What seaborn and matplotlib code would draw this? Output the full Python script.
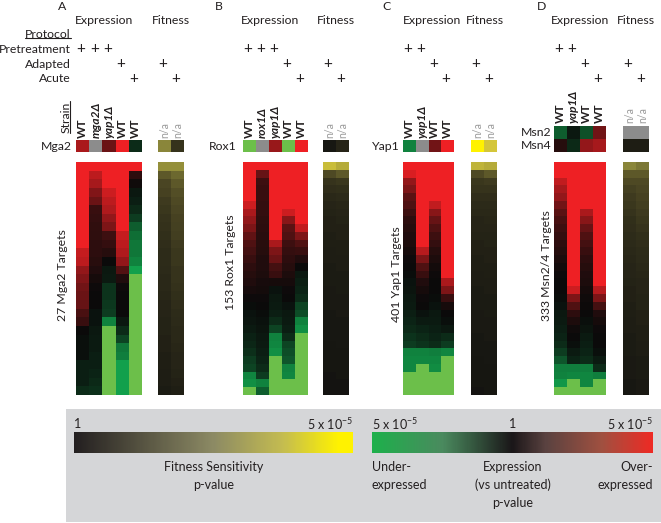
import numpy as np
import matplotlib
matplotlib.use('Agg')
import matplotlib.pyplot as plt
import seaborn as sns
from matplotlib.colors import LinearSegmentedColormap, Normalize
from matplotlib.patches import Rectangle
from matplotlib.lines import Line2D
import matplotlib.transforms as mtrans
import matplotlib.colorbar as mcolorbar

sns.set_theme(style='white')
plt.rcParams['font.family'] = ['Lato', 'DejaVu Sans']
plt.rcParams['mathtext.fontset'] = 'custom'
plt.rcParams['mathtext.rm'] = 'Lato'

nan = np.nan
# ---------------- data (expression score -1..1, fitness 0..1) ----------------
strains_A = ['WT', 'mga2Δ', 'yap1Δ', 'WT', 'WT']
strains_B = ['WT', 'rox1Δ', 'yap1Δ', 'WT', 'WT']
strains_C = ['WT', 'yap1Δ', 'WT', 'WT']
strains_D = ['WT', 'yap1Δ', 'WT', 'WT']
pre_A = [1, 1, 1, 0, 0]; adapted_A = [0, 0, 0, 1, 0]; acute_A = [0, 0, 0, 0, 1]
pre_B = [1, 1, 1, 0, 0]; adapted_B = [0, 0, 0, 1, 0]; acute_B = [0, 0, 0, 0, 1]
pre_C = [1, 1, 0, 0]; adapted_C = [0, 0, 1, 0]; acute_C = [0, 0, 0, 1]
pre_D = [1, 1, 0, 0]; adapted_D = [0, 0, 1, 0]; acute_D = [0, 0, 0, 1]
fit_adapted = [1, 0]; fit_acute = [0, 1]

genes_A = ['Mga2']; genes_B = ['Rox1']; genes_C = ['Yap1']; genes_D = ['Msn2', 'Msn4']
gene_expr_A = [[0.7, nan, 0.42, 1.0, -0.2]]
gene_fit_A = [[0.5, 0.18]]
gene_expr_B = [[-1.0, nan, 0.62, -1.0, 1.0]]
gene_fit_B = [[0.03, 0.1]]
gene_expr_C = [[-0.72, nan, 0.45, 1.0]]
gene_fit_C = [[1.0, 0.85]]
gene_expr_D = [[-0.5, -0.08, -0.42, 0.45], [0.12, -0.18, 0.6, 0.68]]
gene_fit_D = [[nan, nan], [0.06, 0.06]]

targets_A = '27 Mga2 Targets'
targets_B = '153 Rox1 Targets'
targets_C = '401 Yap1 Targets'
targets_D = '333 Msn2/4 Targets'

# Panel A, 27 targets
A_wt_pre = [1, 1, 1, 1, 1, 1, 1, 1, 1, 1, 0.82, 0.78, 0.6, 0.52, 0.45, 0.42, 0.4, 0.28, 0.2,
            0.0, -0.03, -0.03, -0.03, -0.12, -0.12, -0.12, -0.2]
A_mga2 = [1, 0.78, 0.68, 0.52, 0.42, 0.2, 0.18, 0.17, 0.16, 0.15, 0.15, 0.13, 0.1, 0.05, 0.02,
          0.0, 0.0, -0.05, -0.05, -0.08, -0.1, -0.1, -0.12, -0.12, -0.15, -0.18, -0.22]
A_yap1 = [1, 1, 1, 0.85, 0.78, 0.72, 0.6, 0.5, 0.22, 0.18, 0.12, 0.0, -0.08, -0.1, -0.25, -0.25,
          -0.28, -0.3, -0.72, -1, -1, -1, -1, -1, -1, -1, -1]
A_wt_adapt = [1, 1, 1, 1, 1, 1, 1, 1, 0.82, 0.78, 0.72, 0.6, 0.32, 0.1, 0.02, 0, 0, 0, -0.08,
              -0.2, -0.35, -0.65, -0.7, -0.9, -0.9, -0.9, -0.9]
A_wt_acute = [1, 0.15, 0.03, -0.08, -0.12, -0.18, -0.3, -0.5, -0.6, -0.65, -0.65, -0.72, -0.9,
              -1, -1, -1, -1, -1, -1, -1, -1, -1, -1, -1, -1, -1, -1]
A_fit_adapt = [0.55, 0.35, 0.28, 0.26, 0.22, 0.2, 0.18, 0.17, 0.16, 0.15, 0.14, 0.14, 0.13, 0.12,
               0.12, 0.11, 0.1, 0.1, 0.09, 0.09, 0.08, 0.08, 0.07, 0.07, 0.06, 0.06, 0.05]
A_fit_acute = [0.55, 0.4, 0.35, 0.32, 0.3, 0.28, 0.26, 0.25, 0.24, 0.22, 0.2, 0.2, 0.18, 0.18,
               0.17, 0.16, 0.15, 0.14, 0.13, 0.12, 0.12, 0.11, 0.1, 0.1, 0.09, 0.08, 0.07]

# Panel B (binned rows)
B_wt_pre = [1, 1, 1, 1, 1, 0.85, 0.7, 0.6, 0.5, 0.38, 0.3, 0.25, 0.2, 0.15, 0.12, 0.1, 0.06,
            0.02, -0.02, -0.05, -0.07, -0.1, -0.14, -0.17, -0.22, -0.3, -0.35, -0.75, -0.8, -1]
B_rox1 = [1, 0.4, 0.22, 0.2, 0.2, 0.18, 0.18, 0.16, 0.15, 0.14, 0.13, 0.12, 0.1, 0.1, 0.08,
          0.06, 0.04, 0.02, 0.0, -0.02, -0.04, -0.06, -0.08, -0.1, -0.12, -0.15, -0.2, -0.3,
          -0.72, -0.5]
B_yap1 = [1, 1, 1, 1, 1, 1, 1, 1, 1, 1, 0.7, 0.5, 0.42, 0.25, 0.2, 0.05, -0.05, -0.08, -0.1,
          -0.12, -0.2, -0.35, -0.72, -0.75, -0.8, -1, -1, -1, -1, -1]
B_wt_adapt = [1, 1, 1, 1, 1, 1, 0.85, 0.55, 0.35, 0.3, 0.22, 0.18, 0.15, 0.12, 0.08, 0.05,
              0.02, 0.0, -0.05, -0.08, -0.1, -0.12, -0.2, -0.35, -0.4, -0.45, -0.72, -0.75,
              -1, -1]
B_wt_acute = [1, 1, 1, 1, 1, 1, 1, 1, 0.8, 0.5, 0.3, 0.2, 0.1, 0.0, -0.08, -0.12, -0.15, -0.2,
              -0.35, -0.4, -0.72, -0.8, -1, -1, -1, -1, -1, -1, -1, -1]
B_fit_adapt = [0.8, 0.3, 0.18, 0.15, 0.12, 0.1, 0.09, 0.08, 0.08, 0.07, 0.07, 0.06, 0.06, 0.05,
               0.05, 0.05, 0.04, 0.04, 0.04, 0.03, 0.03, 0.03, 0.03, 0.02, 0.02, 0.02, 0.02,
               0.01, 0.01, 0.01]
B_fit_acute = [0.7, 0.35, 0.2, 0.16, 0.13, 0.11, 0.1, 0.09, 0.08, 0.08, 0.07, 0.07, 0.06, 0.06,
               0.05, 0.05, 0.05, 0.04, 0.04, 0.04, 0.03, 0.03, 0.03, 0.03, 0.02, 0.02, 0.02,
               0.02, 0.01, 0.01]

# Panel C
C_wt_pre = [1, 0.9, 0.6, 0.5, 0.35, 0.3, 0.22, 0.15, 0.12, 0.1, 0.08, 0.05, 0.02, 0.0, -0.02,
            -0.05, -0.06, -0.08, -0.1, -0.12, -0.15, -0.18, -0.25, -0.3, -0.72, -0.75, -0.75,
            -1, -1, -1]
C_yap1 = [1, 1, 1, 1, 1, 1, 1, 1, 1, 1, 1, 0.75, 0.5, 0.3, 0.2, 0.1, 0.05, 0.02, 0.0, -0.05,
          -0.1, -0.15, -0.2, -0.25, -0.72, -0.75, -1, -1, -1, -1]
C_wt_adapt = [1, 1, 1, 1, 1, 0.8, 0.55, 0.4, 0.3, 0.22, 0.18, 0.12, 0.08, 0.04, 0.02, 0.0, 0.0,
              -0.02, -0.05, -0.08, -0.1, -0.12, -0.15, -0.2, -0.7, -0.75, -0.78, -1, -1, -1]
C_wt_acute = [1, 1, 1, 1, 1, 1, 1, 1, 1, 1, 1, 1, 1, 1, 1, 0.7, 0.5, 0.2, 0.05, 0.0, -0.03,
              -0.08, -0.2, -0.3, -0.75, -1, -1, -1, -1, -1]
C_fit_adapt = [0.75, 0.3, 0.2, 0.18, 0.15, 0.13, 0.12, 0.1, 0.1, 0.09, 0.08, 0.08, 0.07, 0.07,
               0.06, 0.06, 0.05, 0.05, 0.05, 0.04, 0.04, 0.04, 0.03, 0.03, 0.03, 0.02, 0.02,
               0.02, 0.02, 0.01]
C_fit_acute = [0.7, 0.35, 0.22, 0.18, 0.15, 0.13, 0.12, 0.11, 0.1, 0.09, 0.09, 0.08, 0.08,
               0.07, 0.07, 0.06, 0.06, 0.05, 0.05, 0.05, 0.04, 0.04, 0.04, 0.03, 0.03, 0.03,
               0.02, 0.02, 0.02, 0.02]

# Panel D
D_wt_pre = [1, 1, 0.8, 0.68, 0.6, 0.45, 0.35, 0.28, 0.22, 0.18, 0.15, 0.12, 0.08, 0.04, 0.02,
            0.0, 0.0, -0.02, -0.05, -0.08, -0.1, -0.12, -0.15, -0.2, -0.3, -0.45, -0.7, -0.72,
            -0.85, -1]
D_yap1 = [1, 1, 1, 1, 1, 1, 1, 1, 1, 1, 1, 1, 1, 1, 1, 1, 0.85, 0.5, 0.3, 0.15, 0.08, 0.03,
          0.0, -0.03, -0.1, -0.15, -0.7, -0.75, -1, -1]
D_wt_adapt = [1, 1, 1, 1, 1, 1, 0.7, 0.55, 0.4, 0.3, 0.25, 0.2, 0.15, 0.12, 0.1, 0.08, 0.05,
              0.03, 0.01, 0.0, -0.03, -0.06, -0.1, -0.12, -0.15, -0.2, -0.7, -0.75, -0.75, -1]
D_wt_acute = [1, 1, 1, 1, 1, 1, 1, 1, 1, 1, 1, 1, 1, 1, 1, 1, 0.75, 0.5, 0.25, 0.1, 0.05, 0.02,
              0.0, 0.0, -0.03, -0.1, -0.2, -0.7, -1, -1]
D_fit_adapt = [0.5, 0.35, 0.3, 0.25, 0.22, 0.2, 0.18, 0.16, 0.15, 0.14, 0.13, 0.12, 0.11, 0.1,
               0.1, 0.09, 0.08, 0.08, 0.07, 0.07, 0.06, 0.06, 0.05, 0.05, 0.05, 0.04, 0.04,
               0.04, 0.03, 0.03]
D_fit_acute = [0.45, 0.35, 0.3, 0.28, 0.26, 0.24, 0.22, 0.2, 0.18, 0.16, 0.15, 0.14, 0.13,
               0.12, 0.11, 0.1, 0.1, 0.09, 0.09, 0.08, 0.08, 0.07, 0.07, 0.06, 0.06, 0.05, 0.05,
               0.05, 0.04, 0.04]

# ---------------- styling ----------------
W, H = 661, 523
TXT = '#231f20'
NA_GRAY = '#8c8c8c'
expr_cmap = LinearSegmentedColormap.from_list('expr', [
    (0.0, '#6CBF4A'), (0.03, '#12A64E'), (0.5, '#0A0A0A'), (1.0, '#EE2024')])
fit_cmap = LinearSegmentedColormap.from_list('fit', [
    (0.0, '#121210'), (0.3, '#4e4924'), (0.5, '#8a863a'), (0.85, '#d4c63a'), (1.0, '#fff200')])
leg_fit_cmap = LinearSegmentedColormap.from_list('lfit', [
    (0.0, '#231f20'), (0.5, '#8c8a64'), (0.75, '#c4bc50'), (0.95, '#fff200'), (1.0, '#fff200')])
leg_expr_cmap = LinearSegmentedColormap.from_list('lexpr', [
    (0.0, '#1db04b'), (0.25, '#4a8a5e'), (0.5, '#1a1618'), (0.62, '#5a4240'),
    (0.82, '#a05040'), (1.0, '#ee2a24')])

fig = plt.figure(figsize=(W / 100, H / 100), dpi=100)
fig.patch.set_facecolor('white')


def fy(y):
    return 1 - y / H


def ax_px(x0, y0, x1, y1):
    return fig.add_axes([x0 / W, 1 - y1 / H, (x1 - x0) / W, (y1 - y0) / H])


def draw_heat(ax, data, cmap, vmin, vmax):
    ax.set_facecolor(NA_GRAY)
    sns.heatmap(np.array(data, dtype=float), ax=ax, cmap=cmap, vmin=vmin, vmax=vmax,
                cbar=False, xticklabels=False, yticklabels=False, linewidths=0)
    ax.set_xlabel('')
    ax.set_ylabel('')
    for s in ax.spines.values():
        s.set_visible(False)


panels = [
    dict(letter='A', lx=62, ex=(76, 142), fx=(158, 184), gy=(140, 152), sy=138,
         ehx=104, fhx=171, genes=genes_A, ge=gene_expr_A, gf=gene_fit_A, strains=strains_A,
         pre=pre_A, ad=adapted_A, ac=acute_A, glx=72,
         cols=[A_wt_pre, A_mga2, A_yap1, A_wt_adapt, A_wt_acute],
         fcols=[A_fit_adapt, A_fit_acute], tl=targets_A, tx=63, ty=275),
    dict(letter='B', lx=219, ex=(243, 308), fx=(323, 349), gy=(140, 152), sy=138,
         ehx=270, fhx=336, genes=genes_B, ge=gene_expr_B, gf=gene_fit_B, strains=strains_B,
         pre=pre_B, ad=adapted_B, ac=acute_B, glx=237,
         cols=[B_wt_pre, B_rox1, B_yap1, B_wt_adapt, B_wt_acute],
         fcols=[B_fit_adapt, B_fit_acute], tl=targets_B, tx=231, ty=262),
    dict(letter='C', lx=387, ex=(403, 454), fx=(471, 497), gy=(140, 152), sy=138,
         ehx=432, fhx=485, genes=genes_C, ge=gene_expr_C, gf=gene_fit_C, strains=strains_C,
         pre=pre_C, ad=adapted_C, ac=acute_C, glx=400,
         cols=[C_wt_pre, C_yap1, C_wt_adapt, C_wt_acute],
         fcols=[C_fit_adapt, C_fit_acute], tl=targets_C, tx=396, ty=274),
    dict(letter='D', lx=542, ex=(554, 606), fx=(623, 649), gy=(126, 152), sy=123,
         ehx=580, fhx=636, genes=genes_D, ge=gene_expr_D, gf=gene_fit_D, strains=strains_D,
         pre=pre_D, ad=adapted_D, ac=acute_D, glx=552,
         cols=[D_wt_pre, D_yap1, D_wt_adapt, D_wt_acute],
         fcols=[D_fit_adapt, D_fit_acute], tl=targets_D, tx=546, ty=266),
]

FS = 8.8
Y_PRE, Y_AD, Y_AC = 49, 64, 79
HEAT_TOP, HEAT_BOT = 162, 395

for p in panels:
    fig.text(p['lx'] / W, fy(7), p['letter'], ha='center', va='center', fontsize=FS, color=TXT)
    fig.text(p['ehx'] / W, fy(21), 'Expression', ha='center', va='center', fontsize=FS, color=TXT)
    fig.text(p['fhx'] / W, fy(21), 'Fitness', ha='center', va='center', fontsize=FS, color=TXT)

    gax = ax_px(p['ex'][0], p['gy'][0], p['ex'][1], p['gy'][1])
    draw_heat(gax, p['ge'], expr_cmap, -1, 1)
    gfx = ax_px(p['fx'][0], p['gy'][0], p['fx'][1], p['gy'][1])
    draw_heat(gfx, p['gf'], fit_cmap, 0, 1)

    tax = ax_px(p['ex'][0], HEAT_TOP, p['ex'][1], HEAT_BOT)
    draw_heat(tax, np.array(p['cols']).T, expr_cmap, -1, 1)
    tfx = ax_px(p['fx'][0], HEAT_TOP, p['fx'][1], HEAT_BOT)
    draw_heat(tfx, np.array(p['fcols']).T, fit_cmap, 0, 1)

    # gene row labels
    ng = len(p['genes'])
    gh = (p['gy'][1] - p['gy'][0]) / ng
    for i, g in enumerate(p['genes']):
        fig.text(p['glx'] / W, fy(p['gy'][0] + gh * (i + 0.5)), g, ha='right', va='center',
                 fontsize=FS, color=TXT)

    # strain labels
    tr_e = mtrans.blended_transform_factory(gax.transData, fig.transFigure)
    tr_f = mtrans.blended_transform_factory(gfx.transData, fig.transFigure)
    for i, s in enumerate(p['strains']):
        style = 'normal' if s == 'WT' else 'italic'
        gax.text(i + 0.5, fy(p['sy']), s, transform=tr_e, rotation=90, ha='center',
                 va='bottom', fontsize=8.6, fontweight='bold', fontstyle=style, color=TXT,
                 clip_on=False)
    for i in range(2):
        gfx.text(i + 0.5, fy(p['sy']), 'n/a', transform=tr_f, rotation=90, ha='center',
                 va='bottom', fontsize=7.6, color='#9a9a9a', clip_on=False)

    # protocol plus signs
    for i in range(len(p['strains'])):
        for flag, yy in ((p['pre'][i], Y_PRE), (p['ad'][i], Y_AD), (p['ac'][i], Y_AC)):
            if flag:
                gax.text(i + 0.5 - 0.12, fy(yy), '+', transform=tr_e, ha='center', va='center',
                         fontsize=11, color=TXT, clip_on=False)
    for i in range(2):
        for flag, yy in ((fit_adapted[i], Y_AD), (fit_acute[i], Y_AC)):
            if flag:
                gfx.text(i + 0.5 - 0.12, fy(yy), '+', transform=tr_f, ha='center', va='center',
                         fontsize=11, color=TXT, clip_on=False)

    fig.text(p['tx'] / W, fy(p['ty']), p['tl'], rotation=90, ha='center', va='center',
             fontsize=FS, color=TXT)

# protocol labels
t_prot = fig.text(71 / W, fy(34), 'Protocol', ha='right', va='center', fontsize=FS, color=TXT)
fig.text(71 / W, fy(Y_PRE), 'Pretreatment', ha='right', va='center', fontsize=FS, color=TXT)
fig.text(71 / W, fy(Y_AD), 'Adapted', ha='right', va='center', fontsize=FS, color=TXT)
fig.text(71 / W, fy(Y_AC), 'Acute', ha='right', va='center', fontsize=FS, color=TXT)
t_strain = fig.text(66 / W, fy(117), 'Strain', rotation=90, ha='center', va='center',
                    fontsize=FS, color=TXT)

# legend box
fig.patches.append(Rectangle((66 / W, fy(522)), (661 - 66) / W, (522 - 409) / H,
                             transform=fig.transFigure, facecolor='#d5d6d8', edgecolor='none',
                             zorder=-5))
cax1 = ax_px(74, 432, 353, 453)
cb1 = mcolorbar.ColorbarBase(cax1, cmap=leg_fit_cmap, norm=Normalize(0, 1),
                             orientation='horizontal')
cax2 = ax_px(372, 432, 653, 453)
cb2 = mcolorbar.ColorbarBase(cax2, cmap=leg_expr_cmap, norm=Normalize(0, 1),
                             orientation='horizontal')
for cb in (cb1, cb2):
    cb.outline.set_visible(False)
    cb.ax.set_xticks([])
    cb.ax.set_yticks([])

LFS = 9.0
sup = r'5 x 10$^{\mathregular{-5}}$'
fig.text(74 / W, fy(424), '1', ha='left', va='center', fontsize=LFS, color=TXT)
fig.text(353 / W, fy(424), sup, ha='right', va='center', fontsize=LFS, color=TXT)
fig.text(372 / W, fy(424), sup, ha='left', va='center', fontsize=LFS, color=TXT)
fig.text(513 / W, fy(424), '1', ha='center', va='center', fontsize=LFS, color=TXT)
fig.text(653 / W, fy(424), sup, ha='right', va='center', fontsize=LFS, color=TXT)

fig.text(214 / W, fy(467), 'Fitness Sensitivity', ha='center', va='center', fontsize=LFS, color=TXT)
fig.text(214 / W, fy(485), 'p-value', ha='center', va='center', fontsize=LFS, color=TXT)
fig.text(372 / W, fy(467), 'Under-', ha='left', va='center', fontsize=LFS, color=TXT)
fig.text(372 / W, fy(485), 'expressed', ha='left', va='center', fontsize=LFS, color=TXT)
fig.text(513 / W, fy(467), 'Expression', ha='center', va='center', fontsize=LFS, color=TXT)
fig.text(513 / W, fy(485), '(vs untreated)', ha='center', va='center', fontsize=LFS, color=TXT)
fig.text(513 / W, fy(503), 'p-value', ha='center', va='center', fontsize=LFS, color=TXT)
fig.text(653 / W, fy(467), 'Over-', ha='right', va='center', fontsize=LFS, color=TXT)
fig.text(653 / W, fy(485), 'expressed', ha='right', va='center', fontsize=LFS, color=TXT)

# underlines for Protocol / Strain
fig.canvas.draw()
r = fig.canvas.get_renderer()
inv = fig.transFigure.inverted()
bb = t_prot.get_window_extent(r)
(x0, y0), (x1, y1) = inv.transform([(bb.x0, bb.y0 + 1.5), (bb.x1, bb.y0 + 1.5)])
fig.add_artist(Line2D([x0, x1], [y0, y1], transform=fig.transFigure, color=TXT, lw=0.8))
bb = t_strain.get_window_extent(r)
(x0, y0), (x1, y1) = inv.transform([(bb.x1 - 1.5, bb.y0), (bb.x1 - 1.5, bb.y1)])
fig.add_artist(Line2D([x0, x1], [y0, y1], transform=fig.transFigure, color=TXT, lw=0.8))

fig.savefig('out.png', dpi=100)
